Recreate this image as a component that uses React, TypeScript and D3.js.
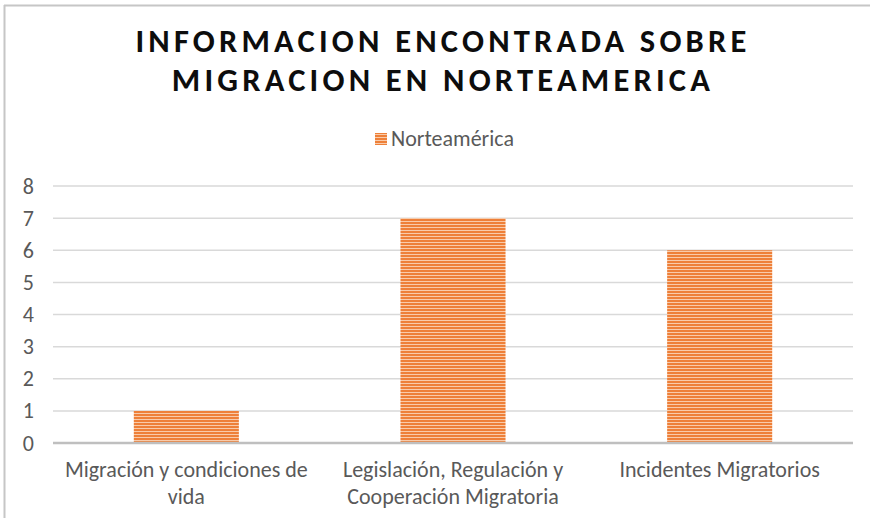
import React from "react";
import * as d3 from "d3";

const categories = [
  ["Migración y condiciones de", "vida"],
  ["Legislación, Regulación y", "Cooperación Migratoria"],
  ["Incidentes Migratorios"],
];
const categoryKeys = ["Migración y condiciones de vida", "Legislación, Regulación y Cooperación Migratoria", "Incidentes Migratorios"];
const values = [1, 7, 6];
const yTicks = [0, 1, 2, 3, 4, 5, 6, 7, 8];
const titleLines = ["INFORMACION ENCONTRADA SOBRE", "MIGRACION EN NORTEAMERICA"];
const seriesName = "Norteamérica";

const W = 870;
const H = 518;
const FONT = "Carlito, Calibri, 'Open Sans', 'Noto Sans', sans-serif";

export default function App() {
  const x = d3.scaleBand<string>().domain(categoryKeys).range([53, 853]).paddingInner(0.606).paddingOuter(0.303);
  const y = d3.scaleLinear().domain([0, 8]).range([443, 186]);
  return (
    <svg width={W} height={H} style={{ position: "absolute", left: 0, top: 0, background: "#fff" }}>
      <defs>
        <pattern id="stripes" width="8" height="3" patternUnits="userSpaceOnUse">
          <rect width="8" height="3" fill="#EE8039" />
          <rect y="2" width="8" height="1" fill="#F9CBAA" />
        </pattern>
      </defs>
      <rect x={0} y={0} width={W} height={H} fill="#fff" />
      <line x1={4.5} y1={5} x2={4.5} y2={H} stroke="#c6c6c6" strokeWidth={2} />
      <line x1={4} y1={5.5} x2={W} y2={5.5} stroke="#c6c6c6" strokeWidth={2} />
      {titleLines.map((t, i) => (
        <text key={i} x={443} y={52 + i * 39} textAnchor="middle" fontFamily={FONT} fontWeight="bold" fontSize={32.5} letterSpacing={4.2} fill="#0d0d0d">
          {t}
        </text>
      ))}
      <rect x={375} y={133} width={12} height={12} fill="url(#stripes)" />
      <text x={391} y={146} fontFamily={FONT} fontSize={22} fill="#595959">{seriesName}</text>
      {yTicks.map((t) => (
        <g key={t}>
          {t > 0 && <line x1={53} x2={853} y1={y(t)} y2={y(t)} stroke="#d9d9d9" strokeWidth={1.5} />}
          <text x={34} y={y(t) + 7.5} textAnchor="end" fontFamily={FONT} fontSize={22} fill="#595959">{t}</text>
        </g>
      ))}
      {categoryKeys.map((c, i) => (
        <rect key={c} x={x(c)} y={y(values[i])} width={x.bandwidth()} height={y(0) - y(values[i])} fill="url(#stripes)" />
      ))}
      <line x1={53} x2={853} y1={y(0)} y2={y(0)} stroke="#bfbfbf" strokeWidth={2.5} />
      {categoryKeys.map((c, i) => (
        <text key={c} textAnchor="middle" fontFamily={FONT} fontSize={22} fill="#595959">
          {categories[i].map((l, j) => (
            <tspan key={j} x={(x(c) as number) + x.bandwidth() / 2} y={477 + j * 27}>{l}</tspan>
          ))}
        </text>
      ))}
    </svg>
  );
}
